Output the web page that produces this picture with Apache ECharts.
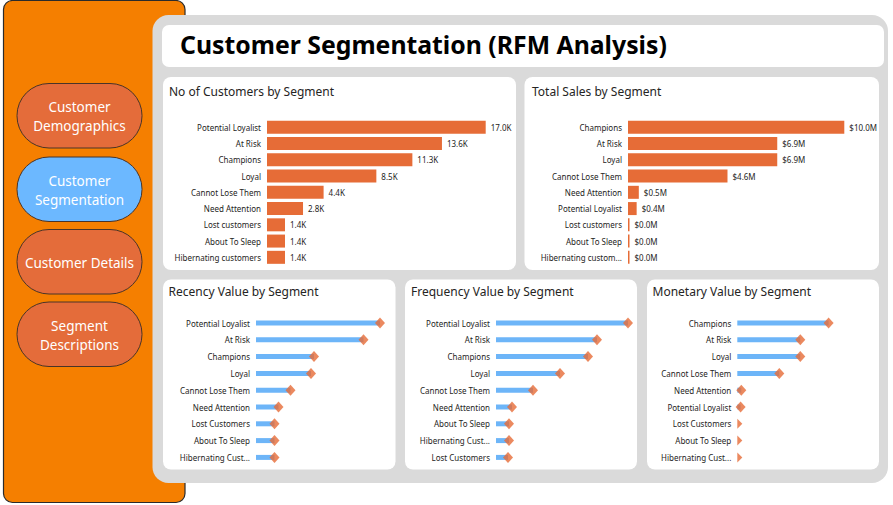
<!DOCTYPE html>
<html><head><meta charset="utf-8">
<script src="https://cdn.jsdelivr.net/npm/echarts@6/dist/echarts.min.js"></script>
<style>html,body{margin:0;padding:0;background:#fff}#c{width:893px;height:505px}</style>
</head><body><div id="c"></div><script>
// ---- data ----
const custCats = ['Potential Loyalist','At Risk','Champions','Loyal','Cannot Lose Them','Need Attention','Lost customers','About To Sleep','Hibernating customers'];
const custValues = [17.0,13.6,11.3,8.5,4.4,2.8,1.4,1.4,1.4];
const salesCats = ['Champions','At Risk','Loyal','Cannot Lose Them','Need Attention','Potential Loyalist','Lost customers','About To Sleep','Hibernating customers'];
const salesValues = [10.0,6.9,6.9,4.6,0.5,0.4,0.02,0.01,0.01];
const recencyCats = ['Potential Loyalist','At Risk','Champions','Loyal','Cannot Lose Them','Need Attention','Lost Customers','About To Sleep','Hibernating Customers'];
const recencyValues = [248,215,116,110,69,45,37,37,37];
const frequencyCats = ['Potential Loyalist','At Risk','Champions','Loyal','Cannot Lose Them','Need Attention','About To Sleep','Hibernating Customers','Lost Customers'];
const frequencyValues = [13.2,10.1,9.2,6.4,3.7,1.6,1.3,1.3,1.2];
const monetaryCats = ['Champions','At Risk','Loyal','Cannot Lose Them','Need Attention','Potential Loyalist','Lost Customers','About To Sleep','Hibernating Customers'];
const monetaryValues = [913,630,630,420,40,33,0,0,0];
const navButtons = ['Customer\nDemographics','Customer\nSegmentation','Customer Details','Segment\nDescriptions'];
const pageTitle = 'Customer Segmentation (RFM Analysis)';
const cardTitles = ['No of Customers by Segment','Total Sales by Segment','Recency Value by Segment','Frequency Value by Segment','Monetary Value by Segment'];

// ---- styles ----
const FONT = "'Noto Sans', 'Open Sans', sans-serif";
const ORANGE = '#E66C37';
const BLUE = '#6DB5F8';
const TXT = '#252423';

const chart = echarts.init(document.getElementById('c'), null, {renderer: 'svg'});

function trunc(keep) {
  return s => s.length > 20 ? s.slice(0, keep) + '...' : s;
}

const grids = [
  {left: 267, top: 119.2, width: 218.7, height: 146.25},
  {left: 628, top: 119.2, width: 216.3, height: 146.25},
  {left: 256, top: 314.6, width: 134, height: 151.2},
  {left: 496, top: 314.6, width: 140, height: 151.2},
  {left: 737.3, top: 314.6, width: 141, height: 151.2}
];
const maxes = [17.0, 10.0, 268, 14.0, 1410];
const catsList = [custCats, salesCats, recencyCats, frequencyCats, monetaryCats];
const labelFmt = [s => s, trunc(18), trunc(16), trunc(16), trunc(16)];

const xAxis = grids.map((g, i) => ({gridIndex: i, type: 'value', min: 0, max: maxes[i], show: false}));
const yAxis = grids.map((g, i) => ({
  gridIndex: i, type: 'category', data: catsList[i], inverse: true,
  axisLine: {show: false}, axisTick: {show: false}, splitLine: {show: false},
  axisLabel: {fontSize: 8, color: TXT, fontFamily: FONT, margin: 6, formatter: labelFmt[i]}
}));

const barLabel = fmt => ({show: true, position: 'right', distance: 5, fontSize: 8, color: TXT, fontFamily: FONT, formatter: p => fmt(p.value)});

function lollipop(idx, cats, vals) {
  return [
    {type: 'bar', xAxisIndex: idx, yAxisIndex: idx, data: vals, barWidth: 5, itemStyle: {color: BLUE}, silent: true, z: 2},
    {type: 'scatter', xAxisIndex: idx, yAxisIndex: idx, z: 3, itemStyle: {color: ORANGE},
     data: vals.map((v, i) => v > 0
       ? {value: [v, cats[i]], symbol: 'diamond', symbolSize: [10, 11]}
       : {value: [v, cats[i]], symbol: 'path://M0,0L1,1L0,2Z', symbolSize: [5, 10], symbolOffset: [2.5, 0]})}
  ];
}

const series = [
  {type: 'bar', xAxisIndex: 0, yAxisIndex: 0, data: custValues, barWidth: 13, itemStyle: {color: ORANGE},
   label: barLabel(v => v.toFixed(1) + 'K')},
  {type: 'bar', xAxisIndex: 1, yAxisIndex: 1, data: salesValues, barWidth: 13, barMinHeight: 1.5, itemStyle: {color: ORANGE},
   label: barLabel(v => '$' + v.toFixed(1) + 'M')},
  ...lollipop(2, recencyCats, recencyValues),
  ...lollipop(3, frequencyCats, frequencyValues),
  ...lollipop(4, monetaryCats, monetaryValues)
];

// ---- background / layout graphics ----
const g = [];
g.push({type: 'rect', z: -10, shape: {x: 3.5, y: 0.5, width: 181.5, height: 502, r: 9}, style: {fill: '#F57F00', stroke: '#2b2b2b', lineWidth: 1.2}});
const btnY = [83.5, 157, 229.5, 302];
navButtons.forEach((t, i) => {
  g.push({type: 'rect', z: -9, shape: {x: 17, y: btnY[i], width: 125, height: 64.5, r: 32}, style: {fill: i === 1 ? '#6CB8FF' : '#E46C3A', stroke: '#4a3428', lineWidth: 1}});
  g.push({type: 'text', z: -8, x: 79.5, y: btnY[i] + 33, style: {text: t, fill: '#fff', font: '13.5px ' + FONT, align: 'center', verticalAlign: 'middle', lineHeight: 19}});
});
g.push({type: 'rect', z: -10, shape: {x: 152.5, y: 15, width: 735.5, height: 468, r: 16}, style: {fill: '#DADADA'}});
g.push({type: 'rect', z: -9, shape: {x: 162, y: 25, width: 722, height: 42, r: 7}, style: {fill: '#fff'}});
g.push({type: 'text', z: -8, x: 180, y: 44, style: {text: pageTitle, fill: '#000', font: 'bold 24.8px ' + FONT, align: 'left', verticalAlign: 'middle'}});
const cards = [
  {x: 163, y: 77, w: 353, h: 193, tx: 169, ty: 91},
  {x: 524.5, y: 77, w: 354.5, h: 193, tx: 532, ty: 91},
  {x: 163, y: 279.5, w: 232.5, h: 190, tx: 168.5, ty: 291},
  {x: 405, y: 279.5, w: 232, h: 190, tx: 411, ty: 291},
  {x: 647, y: 279.5, w: 232, h: 190, tx: 652.5, ty: 291}
];
cards.forEach((c, i) => {
  g.push({type: 'rect', z: -9, shape: {x: c.x, y: c.y, width: c.w, height: c.h, r: 8}, style: {fill: '#fff'}});
  g.push({type: 'text', z: -8, x: c.tx, y: c.ty, style: {text: cardTitles[i], fill: TXT, font: '12px ' + FONT, align: 'left', verticalAlign: 'middle'}});
});

chart.setOption({
  animation: false,
  backgroundColor: '#fff',
  textStyle: {fontFamily: FONT},
  graphic: g,
  grid: grids.map(gr => Object.assign({containLabel: false}, gr)),
  xAxis, yAxis, series
});
</script></body></html>
